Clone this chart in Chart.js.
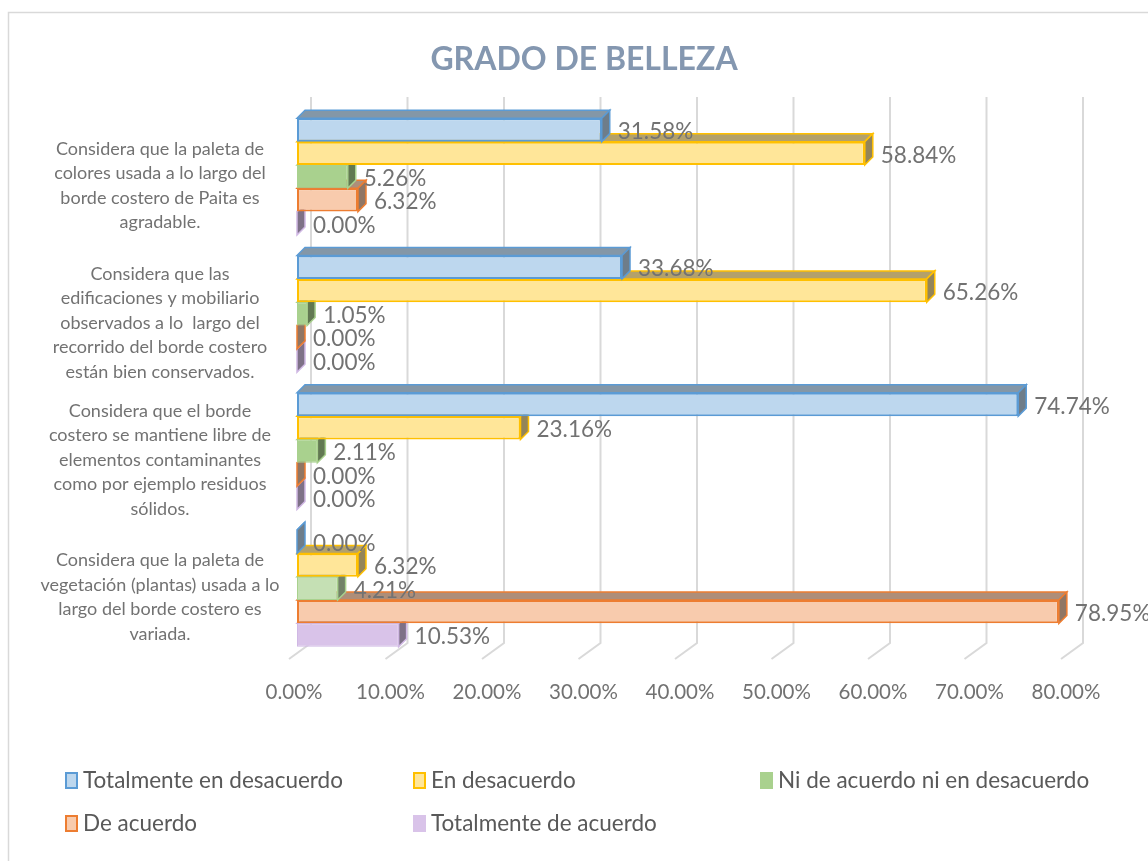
<!DOCTYPE html>
<html>
<head>
<meta charset="utf-8">
<script src="https://cdn.jsdelivr.net/npm/chart.js@4.4.1/dist/chart.umd.min.js"></script>
<style>
  html, body { margin: 0; padding: 0; background: #fff; }
  #wrap { position: relative; width: 1148px; height: 861px; overflow: hidden; }
  #gCanv { position: absolute; left: 0; top: 0; }
  #title { position: absolute; left: 384px; width: 400px; top: 39px; text-align: center; font-family: Lato, sans-serif; font-weight: bold; font-size: 32px; line-height: 38px; color: #8497B0; }
  .lg { position: absolute; font-family: Lato, sans-serif; font-size: 22.5px; color: #595959; white-space: nowrap; line-height: 26px; }
  .lg i { display: inline-block; width: 9px; height: 13px; margin-right: 5px; vertical-align: -1px; border: 2px solid; }
</style>
</head>
<body>
<div id="wrap">
  <canvas id="gCanv" width="1148" height="861"></canvas>
  <div id="title">GRADO DE BELLEZA</div>
</div>
<script>
const categories = [
  ["Considera que la paleta de", "colores usada a lo largo del", "borde costero de Paita es", "agradable."],
  ["Considera que las", "edificaciones y mobiliario", "observados a lo  largo del", "recorrido del borde costero", "están bien conservados."],
  ["Considera que el borde", "costero se mantiene libre de", "elementos contaminantes", "como por ejemplo residuos", "sólidos."],
  ["Considera que la paleta de", "vegetación (plantas) usada a lo", "largo del borde costero es", "variada."]
];
const seriesNames = ["Totalmente en desacuerdo", "En desacuerdo", "Ni de acuerdo ni en desacuerdo", "De acuerdo", "Totalmente de acuerdo"];
const totDesacuerdo = [31.58, 33.68, 74.74, 0.00];
const enDesacuerdo = [58.84, 65.26, 23.16, 6.32];
const niNi = [5.26, 1.05, 2.11, 4.21];
const deAcuerdo = [6.32, 0.00, 0.00, 78.95];
const totAcuerdo = [0.00, 0.00, 0.00, 10.53];
const xTicks = [0, 10, 20, 30, 40, 50, 60, 70, 80];

const fills = ["#BDD7EE", "#FFE699", ["#A9D18E", "#A9D18E", "#A9D18E", "#C5E0B4"], "#F8CBAD", "#D9C3E9"];
const borders = ["#5B9BD5", "#FFC000", "#A9D18E", "#ED7D31", "#D0B8E4"];
const bWidth = [2, 2, 1, 2, 1];
const lgFill = ["#BDD7EE", "#FFE699", "#A9D18E", "#F8CBAD", "#D9C3E9"];

const FONT = "Lato, sans-serif";
const GRAY = "#727272";
const DEPTH = 8;

function shade(hex, f) {
  const n = parseInt(hex.slice(1), 16);
  const r = Math.round(((n >> 16) & 255) * f), g = Math.round(((n >> 8) & 255) * f), b = Math.round((n & 255) * f);
  return "rgb(" + r + "," + g + "," + b + ")";
}

// center the wrapped category labels around x = 160
const mc = document.createElement("canvas").getContext("2d");
mc.font = "18px " + FONT;
let widest = 0;
categories.forEach(c => c.forEach(l => { widest = Math.max(widest, mc.measureText(l).width); }));
const yPad = 297 - 168 - widest / 2;

const bar3d = {
  id: "bar3d",
  beforeDraw(chart) {
    const c = chart.ctx;
    c.save();
    c.fillStyle = "#fff";
    c.fillRect(0, 0, chart.width, chart.height);
    c.strokeStyle = "#D9D9D9";
    c.lineWidth = 1.5;
    c.strokeRect(8.5, 12.5, 1300, 1000);
    // back wall gridlines + floor
    const xs = chart.scales.x, a = chart.chartArea;
    c.strokeStyle = "#D9D9D9";
    c.lineWidth = 2;
    xTicks.forEach(v => {
      const px = xs.getPixelForValue(v);
      c.beginPath();
      c.moveTo(px + 14, a.top - 11);
      c.lineTo(px + 14, a.bottom - 14);
      c.lineTo(px - 8, a.bottom + 2);
      c.stroke();
    });
    c.restore();
  },
  beforeDatasetDraw(chart, args) {
    const c = chart.ctx;
    const i = args.index;
    c.save();
    args.meta.data.forEach((el, j) => {
      const p = el.getProps(["x", "y", "base", "height"], true);
      const x0 = Math.min(p.base, p.x), x1 = Math.max(p.base, p.x);
      const yT = p.y - p.height / 2, yB = p.y + p.height / 2;
      const f = Array.isArray(fills[i]) ? fills[i][j] : fills[i];
      c.lineWidth = 1.5;
      c.strokeStyle = borders[i];
      c.fillStyle = shade(f, 0.7);
      c.beginPath();
      c.moveTo(x0, yT); c.lineTo(x0 + DEPTH, yT - DEPTH); c.lineTo(x1 + DEPTH, yT - DEPTH); c.lineTo(x1, yT);
      c.closePath(); c.fill(); c.stroke();
      c.fillStyle = shade(f, 0.58);
      c.beginPath();
      c.moveTo(x1, yT); c.lineTo(x1 + DEPTH, yT - DEPTH); c.lineTo(x1 + DEPTH, yB - DEPTH); c.lineTo(x1, yB);
      c.closePath(); c.fill(); c.stroke();
    });
    c.restore();
  },
  afterDatasetsDraw(chart) {
    const c = chart.ctx;
    c.save();
    c.font = "22.5px " + FONT;
    c.fillStyle = GRAY;
    c.textAlign = "left";
    c.textBaseline = "middle";
    chart.data.datasets.forEach((ds, i) => {
      chart.getDatasetMeta(i).data.forEach((el, j) => {
        c.fillText(ds.data[j].toFixed(2) + "%", el.x + 16, el.y + 2);
      });
    });
    c.restore();
  }
};

const data = [totDesacuerdo, enDesacuerdo, niNi, deAcuerdo, totAcuerdo];

new Chart(document.getElementById("gCanv"), {
  type: "bar",
  data: {
    labels: categories,
    datasets: data.map((d, i) => ({
      label: seriesNames[i],
      data: d,
      backgroundColor: fills[i],
      borderColor: borders[i],
      borderWidth: bWidth[i],
      borderSkipped: false,
      categoryPercentage: 0.85,
      barPercentage: 1
    }))
  },
  options: {
    indexAxis: "y",
    responsive: false,
    animation: false,
    devicePixelRatio: 1,
    layout: { padding: { left: 0, right: 79, top: 108, bottom: 0 } },
    plugins: {
      legend: { display: false },
      tooltip: { enabled: false },
      title: { display: false }
    },
    scales: {
      x: {
        min: 0, max: 80,
        grid: { display: false },
        border: { display: false },
        afterBuildTicks: s => { s.ticks = xTicks.map(v => ({ value: v })); },
        afterFit: s => { s.height = 204; },
        ticks: {
          color: GRAY,
          font: { family: FONT, size: 20.5 },
          padding: 15,
          labelOffset: -3,
          maxRotation: 0,
          callback: v => v.toFixed(2) + "%"
        }
      },
      y: {
        grid: { display: false },
        border: { display: false },
        afterFit: s => { s.width = 297; },
        ticks: {
          color: GRAY,
          crossAlign: "center",
          padding: yPad,
          labelOffset: 9,
          font: { family: FONT, size: 18, lineHeight: 1.36 }
        }
      }
    }
  },
  plugins: [bar3d]
});

// legend
const lgPos = [[65, 767], [413, 767], [760, 767], [65, 810], [413, 810]];
const wrap = document.getElementById("wrap");
seriesNames.forEach((n, i) => {
  const d = document.createElement("div");
  d.className = "lg";
  d.style.left = lgPos[i][0] + "px";
  d.style.top = lgPos[i][1] + "px";
  const sw = document.createElement("i");
  sw.style.background = lgFill[i];
  sw.style.borderColor = i === 2 || i === 4 ? lgFill[i] : borders[i];
  d.appendChild(sw);
  d.appendChild(document.createTextNode(n));
  wrap.appendChild(d);
});
</script>
</body>
</html>
